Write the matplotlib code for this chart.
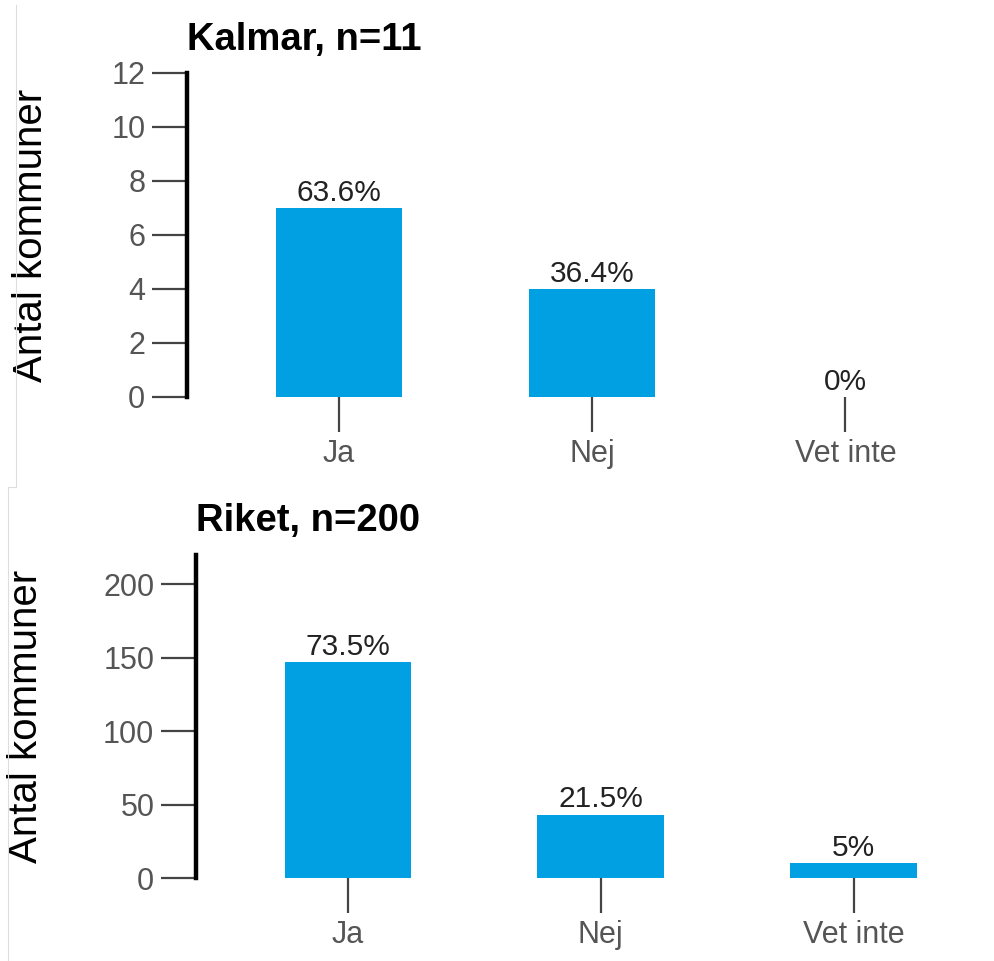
import matplotlib
matplotlib.use("Agg")
import matplotlib.pyplot as plt
from matplotlib.lines import Line2D

plt.rcParams['font.family'] = ['Liberation Sans', 'DejaVu Sans']

categories = ["Ja", "Nej", "Vet inte"]

kalmar_counts = [7, 4, 0]
kalmar_pct = ["63.6%", "36.4%", "0%"]
kalmar_title = "Kalmar, n=11"
kalmar_yticks = [0, 2, 4, 6, 8, 10, 12]

riket_counts = [147, 43, 10]
riket_pct = ["73.5%", "21.5%", "5%"]
riket_title = "Riket, n=200"
riket_yticks = [0, 50, 100, 150, 200]

ylabel = "Antal kommuner"
bar_color = "#00A0E3"
tick_color = "#444444"
label_color = "#555555"

W, H = 995, 961
fig = plt.figure(figsize=(W / 100, H / 100), dpi=100)


def panel(rect, counts, pcts, title, yticks, ylim, label_offset, title_pad,
          ylabel_x):
    ax = fig.add_axes(rect)
    x = list(range(len(categories)))
    ax.bar(x, counts, width=0.5, color=bar_color, zorder=2)
    for xi, c, p in zip(x, counts, pcts):
        ax.text(xi, c + label_offset, p, ha="center", va="bottom",
                fontsize=21.5, color="#222222")
    ax.set_xlim(-0.6, 2.5)
    ax.set_ylim(*ylim)
    ax.set_xticks(x)
    ax.set_xticklabels(categories)
    ax.set_yticks(yticks)
    for s in ("top", "right", "bottom"):
        ax.spines[s].set_visible(False)
    ax.spines["left"].set_linewidth(3.2)
    ax.spines["left"].set_color("black")
    ax.tick_params(axis="both", direction="out", length=25, width=1.6,
                   color=tick_color, labelcolor=label_color, labelsize=22,
                   pad=5)
    ax.set_title(title, loc="left", fontsize=27.5, fontweight="bold",
                 pad=title_pad)
    ax.set_ylabel(ylabel, fontsize=29)
    ax.yaxis.set_label_coords(ylabel_x, 0.5)
    return ax


ax1 = panel([187 / W, 1 - 397 / H, 785 / W, 324 / H], kalmar_counts,
            kalmar_pct, kalmar_title, kalmar_yticks, (0, 12), 0.05, 16.5,
            -0.1745)
ax2 = panel([196 / W, 1 - 878 / H, 784 / W, 323 / H], riket_counts,
            riket_pct, riket_title, riket_yticks, (0, 220), 1.0, 17.5,
            -0.1926)

# faint frame edges of the two stacked panels
edge = "#dddddd"
fig.add_artist(Line2D([16 / W, 16 / W], [1 - 5 / H, 1 - 487 / H],
                      transform=fig.transFigure, color=edge, lw=0.8))
fig.add_artist(Line2D([8 / W, 16 / W], [1 - 487 / H, 1 - 487 / H],
                      transform=fig.transFigure, color=edge, lw=0.8))
fig.add_artist(Line2D([8 / W, 8 / W], [1 - 487 / H, 0],
                      transform=fig.transFigure, color=edge, lw=0.8))

fig.savefig("out.png", dpi=100)
